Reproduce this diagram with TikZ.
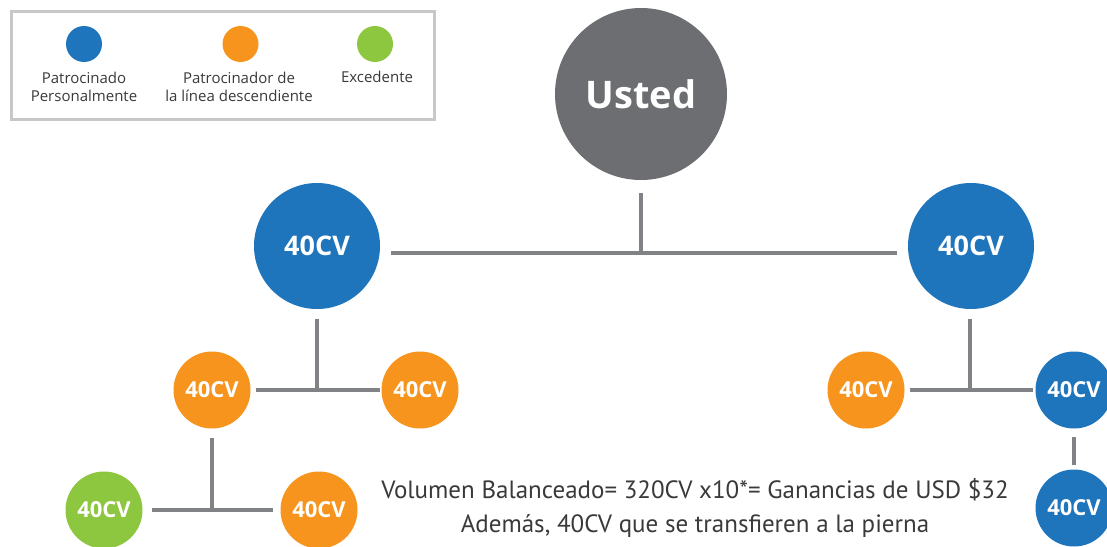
\documentclass[tikz,border=0pt]{standalone}
\usepackage{fontspec}
\setmainfont{Open Sans}
\newfontfamily\notefont{PT Sans}
\definecolor{cblue}{HTML}{1F75BC}
\definecolor{corange}{HTML}{F7941D}
\definecolor{cgreen}{HTML}{8DC63F}
\definecolor{usgray}{HTML}{6D6E71}
\definecolor{linegray}{HTML}{808285}
\definecolor{boxgray}{HTML}{C8C8C8}
\definecolor{textgray}{HTML}{3A3A3A}
\begin{document}
\begin{tikzpicture}[x=1pt,y=-1pt,
  circ/.style={circle,inner sep=0pt,text=white},
  bignode/.style={circ,minimum size=126pt,font=\bfseries\fontsize{27}{30}\selectfont},
  smallnode/.style={circ,minimum size=77pt,font=\bfseries\fontsize{22}{25}\selectfont},
  legdot/.style={circle,inner sep=0pt,minimum size=36pt},
  conn/.style={draw=linegray,line width=4pt},
  legtext/.style={font=\fontsize{15}{18}\selectfont,text=textgray,align=center}]
\useasboundingbox (0,0) rectangle (1107,546);
\fill[white] (0,0) rectangle (1107,546);
% legend
\node[draw=boxgray,line width=3pt,minimum width=423pt,minimum height=108pt,inner sep=0pt] (legend) at (222.5,65) {};
\node[legdot,fill=cblue] (lb) at (84,44) {};
\node[legdot,fill=corange] (lo) at (240.5,44) {};
\node[legdot,fill=cgreen] (lg) at (375,44) {};
\node[legtext] (lbt) at (84,87) {Patrocinado\\Personalmente};
\node[legtext] (lot) at (239,87) {Patrocinador de\\la línea descendiente};
\node[legtext] (lgt) at (377,77) {Excedente};
% nodes
\node[circ,fill=usgray,minimum size=172pt,font=\bfseries\fontsize{38}{40}\selectfont] (U) at (641,94) {Usted};
\node[bignode,fill=cblue] (L) at (317,246) {40CV};
\node[bignode,fill=cblue] (R) at (971,246) {40CV};
\node[smallnode,fill=corange] (LO1) at (212,390) {40CV};
\node[smallnode,fill=corange] (LO2) at (420,390) {40CV};
\node[smallnode,fill=cgreen] (G) at (104,510) {40CV};
\node[smallnode,fill=corange] (LO3) at (319,510) {40CV};
\node[smallnode,fill=corange] (RO) at (866,390) {40CV};
\node[smallnode,fill=cblue] (RB1) at (1074,390) {40CV};
\node[smallnode,fill=cblue] (RB2) at (1074,508) {40CV};
% junctions
\coordinate (j0) at (641,253);
\coordinate (j1) at (317,390);
\coordinate (j2) at (212,510);
\coordinate (j3) at (970,390);
% connectors
\draw[conn,shorten <=13pt] (U.south) -- (j0);
\draw[conn,shorten <=11pt,shorten >=11pt] (L.east |- j0) -- (R.west |- j0);
\draw[conn,shorten <=10pt] (L.south) -- (j1);
\draw[conn,shorten <=5pt,shorten >=1pt] (LO1.east) -- (LO2.west);
\draw[conn,shorten <=9pt] (LO1.south) -- (j2);
\draw[conn,shorten <=9pt,shorten >=7pt] (G.east) -- (LO3.west);
\draw[conn,shorten <=10pt] (R.south -| j3) -- (j3);
\draw[conn,shorten <=5.5pt,shorten >=2.5pt] (RO.east) -- (RB1.west);
\draw[conn,shorten <=8.5pt,shorten >=4.5pt] (RB1.south) -- (RB2.north);
% note
\node[font=\notefont\fontsize{25}{34}\selectfont,text=textgray,align=center] (note) at (695,508)
  {Volumen Balanceado= 320CV x10*= Ganancias de USD \$32\\Además, 40CV que se transfieren a la pierna};
\end{tikzpicture}
\end{document}
